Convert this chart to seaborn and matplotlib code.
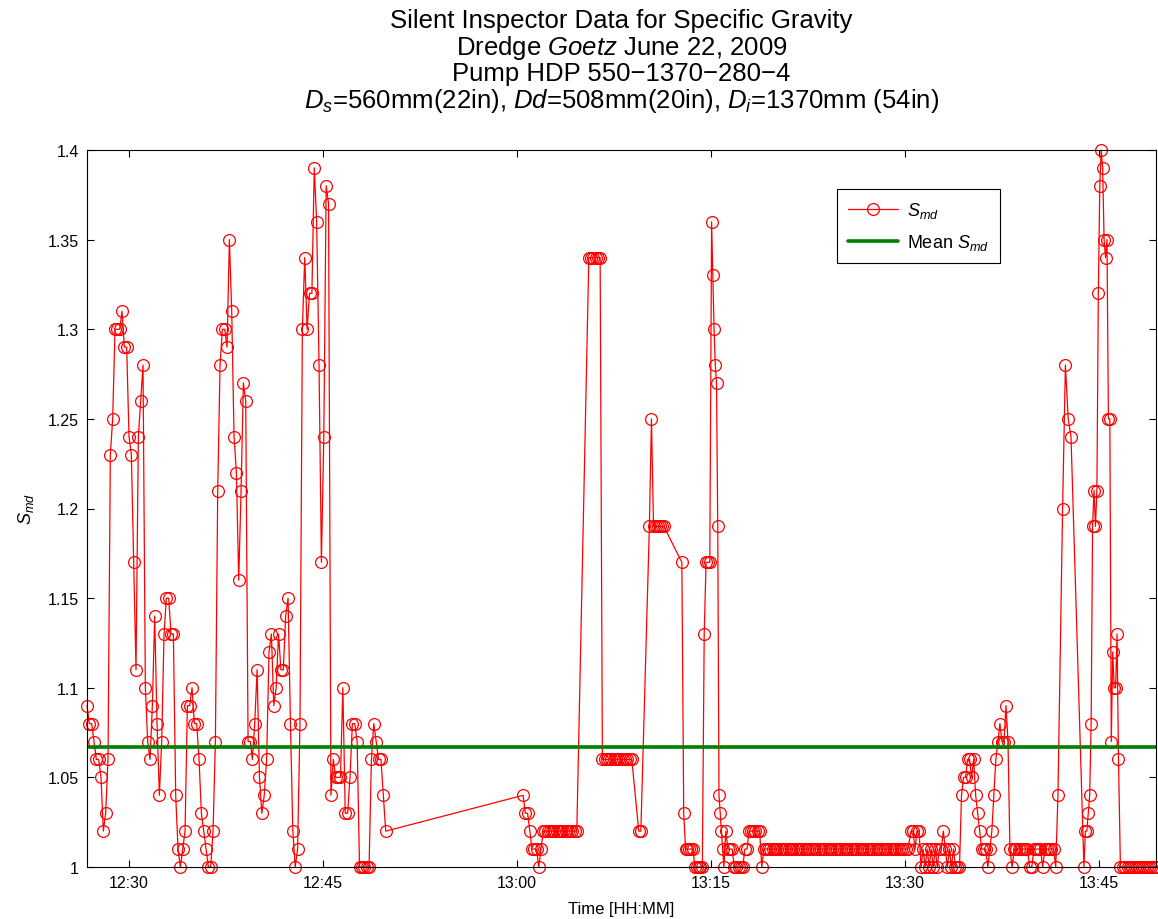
import numpy as np
import pandas as pd
import matplotlib
matplotlib.use("Agg")
import matplotlib.pyplot as plt
import seaborn as sns

# ---------------- data (time in minutes after 12:00, S_md values) ----------------
# logging bursts: (start minute, end minute)
pre_a = [1.09, 1.08, 1.08, 1.07, 1.06, 1.06, 1.05, 1.02, 1.03, 1.06,
         1.23, 1.25, 1.30, 1.30, 1.30, 1.31, 1.29, 1.29, 1.24, 1.23,
         1.17, 1.11, 1.24, 1.26, 1.28, 1.10, 1.07, 1.06, 1.09, 1.14,
         1.08, 1.04, 1.07, 1.13, 1.15, 1.15, 1.13, 1.13, 1.04, 1.01,
         1.00, 1.01, 1.02, 1.09, 1.09, 1.10, 1.08, 1.08, 1.06, 1.03,
         1.02, 1.01, 1.00, 1.00, 1.02, 1.07, 1.21, 1.28, 1.30, 1.30,
         1.29, 1.35, 1.31, 1.24, 1.22, 1.16, 1.21, 1.27, 1.26, 1.07,
         1.07]
pre_b = [1.06, 1.08, 1.11, 1.05, 1.03, 1.04, 1.06, 1.12, 1.13, 1.09,
         1.10, 1.13, 1.11, 1.11, 1.14, 1.15, 1.08, 1.02, 1.00, 1.01,
         1.08, 1.30, 1.34, 1.30, 1.32, 1.32, 1.39, 1.36, 1.28, 1.17,
         1.24, 1.38, 1.37, 1.04, 1.06, 1.05, 1.05, 1.05, 1.10, 1.03,
         1.03, 1.05, 1.08, 1.08, 1.07, 1.00, 1.00, 1.00, 1.00, 1.00,
         1.06, 1.08, 1.07, 1.06, 1.06, 1.04, 1.02]
post_1 = [1.04, 1.03, 1.03, 1.02, 1.01, 1.01, 1.01, 1.00, 1.01,
          1.02, 1.02, 1.02, 1.02, 1.02, 1.02, 1.02, 1.02,
          1.02, 1.02, 1.02, 1.02, 1.02, 1.02, 1.02, 1.02]
post_2 = [1.34, 1.34, 1.34, 1.34, 1.34, 1.34,
          1.06, 1.06, 1.06, 1.06, 1.06, 1.06, 1.06,
          1.06, 1.06, 1.06, 1.06, 1.06, 1.06, 1.06]
post_3 = [1.02, 1.02]
post_4 = [1.19, 1.25, 1.19, 1.19, 1.19, 1.19, 1.19, 1.19]
post_5 = [1.17, 1.03, 1.01, 1.01, 1.01, 1.01, 1.01, 1.00, 1.00, 1.00,
          1.00, 1.00, 1.13, 1.17, 1.17, 1.17]
post_6 = [1.36, 1.33, 1.30, 1.28, 1.27, 1.19, 1.04, 1.03, 1.02, 1.01, 1.00]
post_7 = [1.02, 1.01, 1.01, 1.01, 1.00, 1.00, 1.00, 1.00, 1.00, 1.01,
          1.01, 1.02, 1.02, 1.02, 1.02, 1.02, 1.02, 1.00, 1.01]
post_8 = [1.01, 1.01, 1.01, 1.01, 1.01, 1.01, 1.01, 1.01, 1.01, 1.01,
          1.01, 1.01, 1.01, 1.01, 1.01, 1.01, 1.01, 1.01, 1.01, 1.01,
          1.01, 1.01, 1.01, 1.01, 1.01, 1.01, 1.01, 1.01, 1.01, 1.01,
          1.01, 1.01, 1.01, 1.01, 1.01, 1.01, 1.01, 1.01, 1.01, 1.01,
          1.01, 1.01, 1.01, 1.01, 1.01, 1.01, 1.01, 1.01, 1.01, 1.01,
          1.01, 1.01, 1.01, 1.01, 1.01, 1.01, 1.01, 1.01, 1.01, 1.01,
          1.01, 1.01, 1.01]
post_9 = [1.02, 1.02, 1.01, 1.02, 1.02,
          1.00, 1.01, 1.00, 1.01, 1.00, 1.01, 1.00, 1.01, 1.00, 1.01,
          1.01, 1.02, 1.01, 1.00, 1.01, 1.00, 1.01, 1.00, 1.00, 1.00,
          1.04, 1.05, 1.05, 1.06, 1.06, 1.05, 1.06, 1.04, 1.03, 1.02,
          1.01, 1.01, 1.01, 1.00, 1.01, 1.02, 1.04, 1.06, 1.07, 1.08,
          1.07, 1.07, 1.09, 1.07]
post_10 = [1.01, 1.00, 1.01, 1.01, 1.01, 1.01, 1.01, 1.01, 1.01, 1.00,
           1.00, 1.01, 1.01, 1.01, 1.01, 1.00, 1.01, 1.01, 1.01, 1.01,
           1.01, 1.00, 1.04]
post_11 = [1.20, 1.28, 1.25, 1.24]
post_12 = [1.00, 1.02, 1.02, 1.03, 1.04, 1.08, 1.19, 1.21, 1.19, 1.21,
           1.32, 1.38, 1.40, 1.39, 1.35, 1.34, 1.35, 1.25, 1.25, 1.07,
           1.12, 1.10, 1.10, 1.13, 1.06]
post_13 = [1.00, 1.00, 1.00, 1.00, 1.00, 1.00, 1.00, 1.00,
           1.00, 1.00, 1.00, 1.00, 1.00, 1.00, 1.00, 1.00]

burst_starts = [26.77, 39.55, 60.48, 65.56, 69.42, 70.24, 72.75, 75.05,
                76.15, 79.24, 90.46, 98.11, 102.18, 103.83, 106.65]
burst_ends = [39.40, 49.86, 64.63, 68.88, 69.58, 71.36, 74.91, 76.00,
              79.09, 90.22, 97.96, 101.82, 102.83, 106.50, 109.40]
burst_values = [pre_a, pre_b, post_1, post_2, post_3, post_4, post_5, post_6,
                post_7, post_8, post_9, post_10, post_11, post_12, post_13]

mean_smd = 1.067

x_ticks = [30, 45, 60, 75, 90, 105]
x_tick_labels = ["12:30", "12:45", "13:00", "13:15", "13:30", "13:45"]
y_ticks = [1.0, 1.05, 1.1, 1.15, 1.2, 1.25, 1.3, 1.35, 1.4]
y_tick_labels = ["1", "1.05", "1.1", "1.15", "1.2", "1.25", "1.3", "1.35", "1.4"]

# ---------------- build frame ----------------
frames = []
for t0, t1, vals in zip(burst_starts, burst_ends, burst_values):
    frames.append(pd.DataFrame({"minute": np.linspace(t0, t1, len(vals)),
                                "smd": vals}))
df = pd.concat(frames, ignore_index=True)

# ---------------- style ----------------
sns.set_theme(style="white")
plt.rcParams["font.family"] = ["Liberation Sans", "DejaVu Sans"]
plt.rcParams["mathtext.fontset"] = "custom"
plt.rcParams["mathtext.rm"] = "Liberation Sans"
plt.rcParams["mathtext.it"] = "Liberation Sans:italic"
plt.rcParams["mathtext.bf"] = "Liberation Sans:bold"
plt.rcParams["text.color"] = "black"
plt.rcParams["axes.labelcolor"] = "black"

W, H = 1158, 920
fig = plt.figure(figsize=(W / 100, H / 100), dpi=100)
ax = fig.add_axes([87 / W, 1 - 868 / H, (1156 - 87) / W, (868 - 151) / H])

sns.lineplot(data=df, x="minute", y="smd", ax=ax, sort=False, estimator=None,
             color="red", linewidth=0.9, marker="o", markersize=8.5,
             markerfacecolor="none", markeredgecolor="red",
             markeredgewidth=0.9, label=r"$S_{md}$", clip_on=False)
ax.axhline(mean_smd, color=(0, 0.5, 0), linewidth=2.6, label=r"Mean $S_{md}$")

ax.set_xlim(burst_starts[0], burst_ends[-1])
ax.set_ylim(1.0, 1.4)
ax.set_xticks(x_ticks)
ax.set_xticklabels(x_tick_labels)
ax.set_yticks(y_ticks)
ax.set_yticklabels(y_tick_labels)
ax.tick_params(axis="both", direction="in", length=5, width=0.8, labelsize=11.5,
               top=True, right=True, bottom=True, left=True, colors="black", pad=6)
for s in ax.spines.values():
    s.set_visible(True)
    s.set_color("black")
    s.set_linewidth(0.8)

ax.set_xlabel("Time [HH:MM]", fontsize=12, labelpad=8, color="black")
ax.set_ylabel(r"$S_{md}$", fontsize=13, labelpad=8, color="black")

leg = ax.legend(loc="upper right", bbox_to_anchor=((1000 - 87) / 1069, (868 - 190) / 717),
                borderaxespad=0, fancybox=False, frameon=True, fontsize=13,
                handlelength=2.8, handletextpad=0.5, borderpad=0.6, labelspacing=0.7)
leg.get_frame().set_edgecolor("black")
leg.get_frame().set_linewidth(0.8)
leg.get_frame().set_alpha(1)
for t in leg.get_texts():
    t.set_color("black")

cx = (87 + 1156) / 2 / W
title_lines = ["Silent Inspector Data for Specific Gravity",
               r"Dredge $\mathit{Goetz}$ June 22, 2009",
               "Pump HDP 550\u22121370\u2212280\u22124",
               r"$D_s$=560mm(22in), $Dd$=508mm(20in), $D_i$=1370mm (54in)"]
baselines = [28, 55, 81.5, 108]
for txt, b in zip(title_lines, baselines):
    fig.text(cx, 1 - b / H, txt, ha="center", va="baseline", fontsize=18.5,
             color="black")

fig.savefig("out.png", dpi=100)
